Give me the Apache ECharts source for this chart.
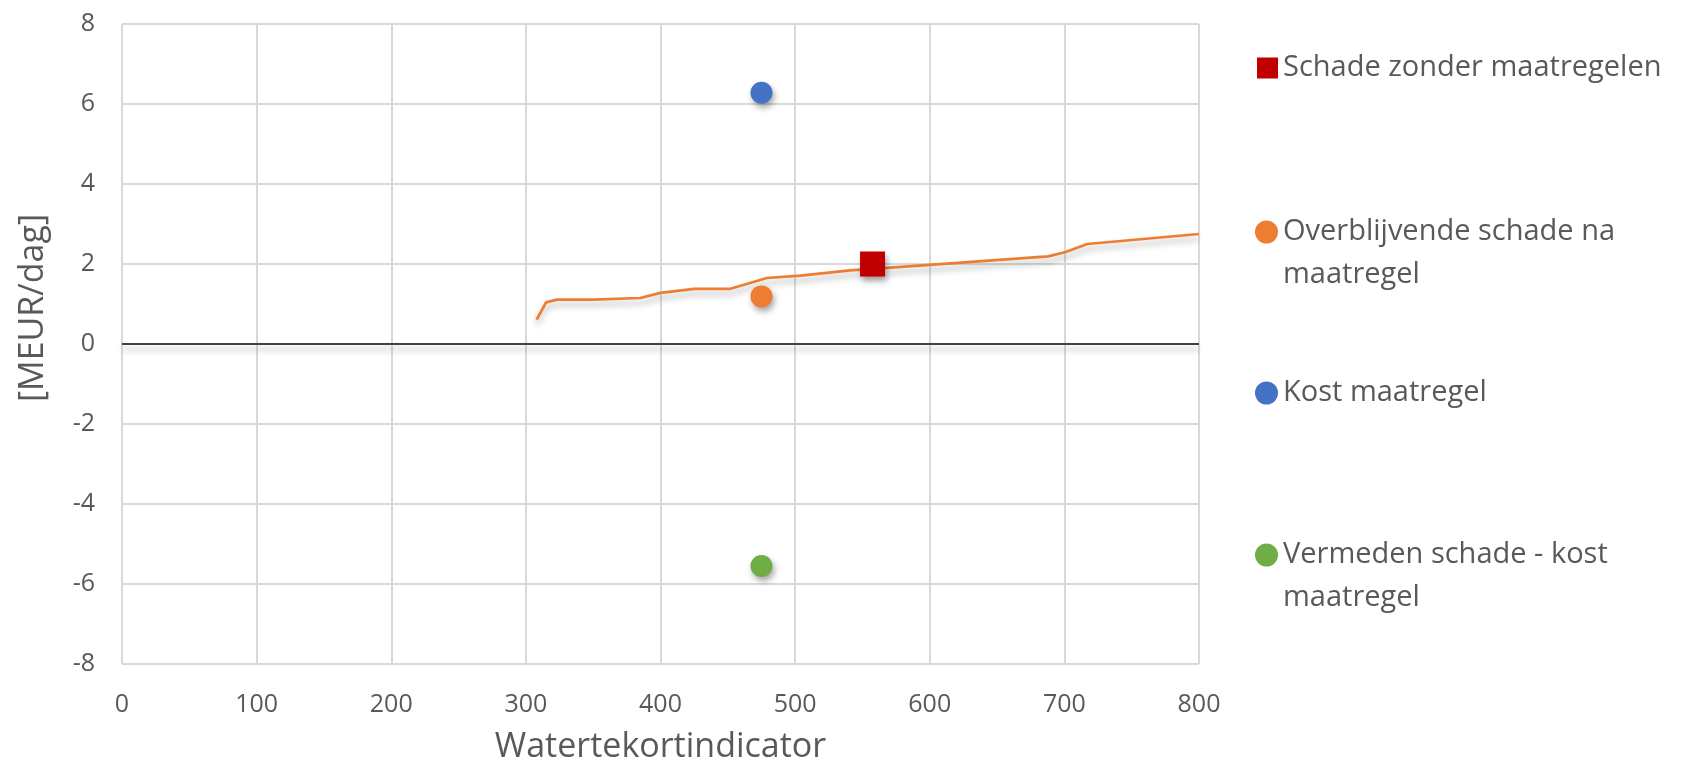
<!DOCTYPE html>
<html>
<head>
<meta charset="utf-8">
<script src="https://cdn.jsdelivr.net/npm/echarts@6/dist/echarts.min.js"></script>
<style>
html,body{margin:0;padding:0;background:#fff;}
#chart{width:1698px;height:764px;}
</style>
</head>
<body>
<div id="chart"></div>
<script>
// Data
const curveX = [308, 315, 323, 350, 385, 400, 425, 452, 479, 504, 541, 600, 688, 701, 717, 800];
const curveY = [0.61, 1.04, 1.11, 1.11, 1.15, 1.28, 1.38, 1.38, 1.65, 1.71, 1.84, 1.98, 2.19, 2.30, 2.50, 2.75];

const seriesNames = ['Schade zonder maatregelen', 'Overblijvende schade na maatregel', 'Kost maatregel', 'Vermeden schade - kost maatregel'];
const pointX = [557.5, 475, 475, 475];
const pointY = [2.0, 1.19, 6.28, -5.55];
const colors = ['#C00000', '#ED7D31', '#4472C4', '#70AD47'];
const legendLines = {
  'Overblijvende schade na maatregel': ['Overblijvende schade na', 'maatregel'],
  'Vermeden schade - kost maatregel': ['Vermeden schade - kost', 'maatregel']
};

const xTicks = { min: 0, max: 800, interval: 100 };
const yTicks = { min: -8, max: 8, interval: 2 };

const FONT = 'Open Sans';
const TXT = '#595959';
const GRID = '#D9D9D9';

const chart = echarts.init(document.getElementById('chart'), null, { renderer: 'canvas' });

const shadow = { shadowColor: 'rgba(0,0,0,0.35)', shadowBlur: 6, shadowOffsetX: 2, shadowOffsetY: 4 };

const series = [{
  name: 'curve',
  type: 'line',
  data: curveX.map((x, i) => [x, curveY[i]]),
  showSymbol: false,
  symbol: 'none',
  lineStyle: { color: '#ED7D31', width: 2.75, shadowColor: 'rgba(0,0,0,0.3)', shadowBlur: 6, shadowOffsetY: 5 },
  z: 3,
  silent: true,
  markLine: {
    silent: true,
    symbol: 'none',
    label: { show: false },
    lineStyle: { color: '#404040', width: 2, type: 'solid', shadowColor: 'rgba(0,0,0,0.3)', shadowBlur: 6, shadowOffsetY: 5 },
    data: [{ yAxis: 0 }]
  }
}];

seriesNames.forEach((n, i) => {
  series.push({
    name: n,
    type: 'scatter',
    data: [[pointX[i], pointY[i]]],
    symbol: i === 0 ? 'rect' : 'circle',
    symbolSize: i === 0 ? 25 : 22,
    itemStyle: Object.assign({ color: colors[i], opacity: 1 }, shadow),
    z: 4
  });
});

const legendCenters = [68, 232, 393, 555];
const legends = seriesNames.map((n, i) => {
  const multi = !!legendLines[n];
  const iw = i === 0 ? 21 : 23;
  const lh = 43;
  const top = multi ? legendCenters[i] - lh * 1.5 : legendCenters[i] - lh / 2;
  return {
    orient: 'vertical',
    left: 1283 - 5 - iw,
    top: top,
    padding: 0,
    itemWidth: iw,
    itemHeight: iw,
    selectedMode: false,
    data: [{ name: n, icon: i === 0 ? 'rect' : 'circle' }],
    formatter: function (name) {
      if (legendLines[name]) return '\n' + legendLines[name].join('\n');
      return name;
    },
    textStyle: { fontFamily: FONT, fontSize: 29, color: TXT, lineHeight: lh }
  };
});

chart.setOption({
  animation: false,
  backgroundColor: '#fff',
  grid: { left: 122, right: 499, top: 24, bottom: 100, containLabel: false, outerBoundsMode: 'none' },
  legend: legends,
  xAxis: {
    type: 'value',
    min: xTicks.min, max: xTicks.max, interval: xTicks.interval,
    name: 'Watertekortindicator',
    nameLocation: 'middle',
    nameGap: 66,
    nameTextStyle: { fontFamily: FONT, fontSize: 34, color: TXT },
    axisLine: { show: false },
    axisTick: { show: false },
    axisLabel: { fontFamily: FONT, fontSize: 25, color: TXT, margin: 28 },
    splitLine: { show: true, lineStyle: { color: GRID, width: 2 } }
  },
  yAxis: {
    type: 'value',
    min: yTicks.min, max: yTicks.max, interval: yTicks.interval,
    axisLine: { show: false },
    axisTick: { show: false },
    axisLabel: { fontFamily: FONT, fontSize: 25, color: TXT, margin: 27 },
    splitLine: { show: true, lineStyle: { color: GRID, width: 2 } }
  },
  graphic: [{
    type: 'text',
    x: 33, y: 308,
    rotation: Math.PI / 2,
    style: { text: '[MEUR/dag]', fontFamily: FONT, fontSize: 34, fill: TXT, align: 'center', verticalAlign: 'middle' }
  }],
  series: series
});
</script>
</body>
</html>
